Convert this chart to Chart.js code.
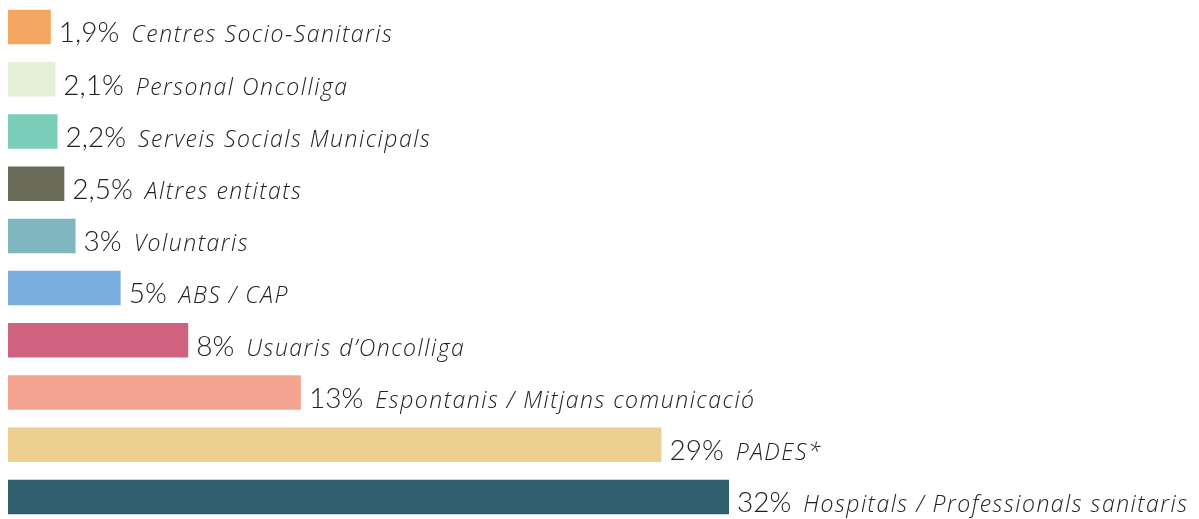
<!DOCTYPE html>
<html>
<head>
<meta charset="utf-8">
<script src="https://cdn.jsdelivr.net/npm/chart.js@4.4.1/dist/chart.umd.min.js"></script>
<style>
  html, body { margin: 0; padding: 0; background: #fff; overflow: hidden; }
  #wrap { position: relative; width: 1199px; height: 523px; }
</style>
</head>
<body>
<div id="wrap"><canvas id="chart"></canvas></div>
<script>
// categories, top to bottom
const categories = [
  'Centres Socio-Sanitaris',
  'Personal Oncolliga',
  'Serveis Socials Municipals',
  'Altres entitats',
  'Voluntaris',
  'ABS / CAP',
  'Usuaris d\u2019Oncolliga',
  'Espontanis / Mitjans comunicació',
  'PADES*',
  'Hospitals / Professionals sanitaris'
];
const percentages = [1.9, 2.1, 2.2, 2.5, 3, 5, 8, 13, 29, 32];
const barColors = [
  '#F3A65F', '#E6F0D6', '#7ACDB8', '#6A6C58', '#80B6BF',
  '#7BADDF', '#CF627F', '#F5A391', '#EDCF8F', '#2F5F6D'
];

const fmtPct = v => String(v).replace('.', ',') + '%';

// draws "xx%  label" right after each bar
const barLabels = {
  id: 'barLabels',
  afterDatasetsDraw(chart) {
    const ctx = chart.ctx;
    const meta = chart.getDatasetMeta(0);
    ctx.save();
    ctx.fillStyle = '#222222';
    ctx.textBaseline = 'alphabetic';
    ctx.textAlign = 'left';
    meta.data.forEach((bar, i) => {
      const bottom = bar.y + bar.height / 2;
      const baseY = bottom - 2;
      let x = bar.x + 8;
      ctx.font = '300 28px Lato';
      ctx.letterSpacing = '0px';
      const pct = fmtPct(percentages[i]);
      ctx.fillText(pct, x, baseY);
      x += ctx.measureText(pct).width + 12;
      ctx.font = 'italic 300 23px "Open Sans"';
      ctx.letterSpacing = '1.5px';
      ctx.fillText(categories[i], x, baseY);
    });
    ctx.restore();
  }
};

new Chart(document.getElementById('chart'), {
  type: 'bar',
  data: {
    labels: categories,
    datasets: [{
      data: percentages,
      backgroundColor: barColors,
      borderWidth: 0,
      categoryPercentage: 1,
      barPercentage: 0.66
    }]
  },
  options: {
    indexAxis: 'y',
    responsive: true,
    maintainAspectRatio: false,
    animation: false,
    layout: { padding: { left: 8, right: 0, top: 1, bottom: 0 } },
    plugins: { legend: { display: false }, tooltip: { enabled: false } },
    scales: {
      x: { display: false, min: 0, max: 52.86 },
      y: { display: false }
    }
  },
  plugins: [barLabels]
});
</script>
</body>
</html>
